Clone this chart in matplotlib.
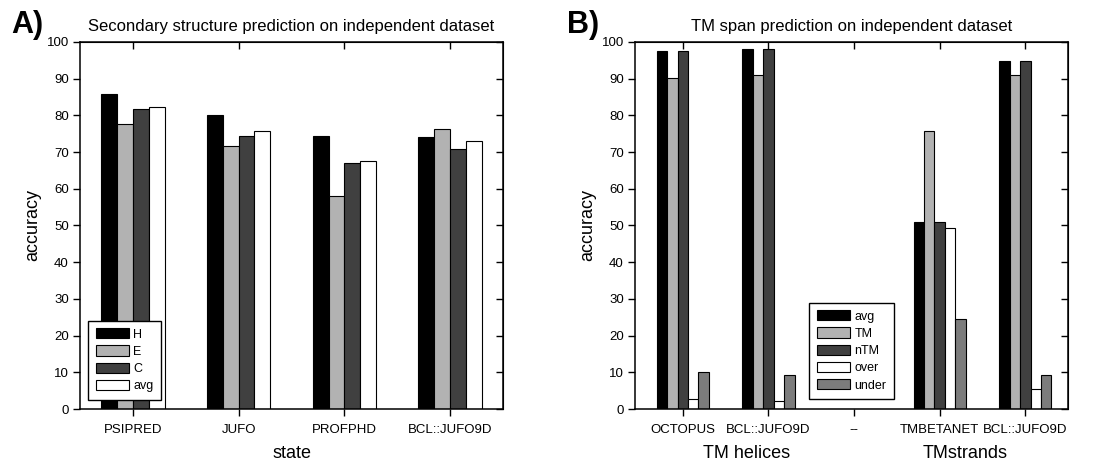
import numpy as np
import matplotlib
matplotlib.use("Agg")
import matplotlib.pyplot as plt

plt.rcParams["font.family"] = ["Liberation Sans", "DejaVu Sans"]

# Panel A: secondary structure prediction
ss_methods = ["PSIPRED", "JUFO", "PROFPHD", "BCL::JUFO9D"]
ss_series = ["H", "E", "C", "avg"]
ss_H = [85.8, 80.1, 74.4, 74.2]
ss_E = [77.7, 71.7, 58.0, 76.2]
ss_C = [81.7, 74.3, 67.0, 70.9]
ss_avg = [82.3, 75.8, 67.7, 73.1]

# Panel B: TM span prediction ("--" is an empty separator slot)
tm_methods = ["OCTOPUS", "BCL::JUFO9D", "--", "TMBETANET", "BCL::JUFO9D"]
tm_series = ["avg", "TM", "nTM", "over", "under"]
tm_avg = [97.6, 98.1, 0, 51.0, 94.9]
tm_TM = [90.3, 91.1, 0, 75.7, 91.1]
tm_nTM = [97.6, 98.1, 0, 51.0, 94.9]
tm_over = [2.6, 2.2, 0, 49.3, 5.4]
tm_under = [10.0, 9.3, 0, 24.6, 9.3]

C_BLACK = "#000000"
C_LIGHT = "#b2b2b2"
C_DARK = "#404040"
C_WHITE = "#ffffff"
C_MID = "#7c7c7c"


def style_axes(ax, xticks, xlabels):
    ax.set_ylim(0, 100)
    ax.set_yticks(np.arange(0, 101, 10))
    ax.set_xticks(xticks)
    ax.set_xticklabels(xlabels)
    ax.tick_params(axis="both", direction="out", length=5, width=1, labelsize=9.5, pad=3)
    ax.tick_params(axis="x", pad=6)
    for s in ax.spines.values():
        s.set_linewidth(1.1)
    # mirrored ticks pointing inwards on top and right
    top = ax.secondary_xaxis("top")
    top.set_xticks(xticks)
    top.set_xticklabels([])
    top.tick_params(direction="in", length=5, width=1)
    right = ax.secondary_yaxis("right")
    right.set_yticks(np.arange(0, 101, 10))
    right.set_yticklabels([])
    right.tick_params(direction="in", length=5, width=1)
    ax.set_ylabel("accuracy", fontsize=13, labelpad=4)


def add_legend(ax, anchor, loc):
    ax.legend(loc=loc, bbox_to_anchor=anchor, borderaxespad=0, fontsize=9, frameon=True,
              fancybox=False, edgecolor="black", handlelength=2.7, handleheight=0.9,
              labelspacing=0.38, handletextpad=0.3, borderpad=0.6, framealpha=1)


fig = plt.figure(figsize=(11.08, 4.66), dpi=100)
axA = fig.add_axes([0.0722, 0.1223, 0.3818, 0.7876])
axB = fig.add_axes([0.573, 0.1223, 0.391, 0.7876])

# ---- panel A
x = np.arange(len(ss_methods))
w = 0.15
colorsA = [C_BLACK, C_LIGHT, C_DARK, C_WHITE]
valsA = [ss_H, ss_E, ss_C, ss_avg]
for i, (vals, col, lab) in enumerate(zip(valsA, colorsA, ss_series)):
    axA.bar(x + (i - 1.5) * w, vals, w, color=col, edgecolor="black", linewidth=0.8, label=lab)
axA.set_xlim(-0.5, 3.5)
style_axes(axA, x, ss_methods)
axA.set_xlabel("state", fontsize=13, labelpad=6)
axA.set_title("Secondary structure prediction on independent dataset", fontsize=12, pad=8)
add_legend(axA, (0.019, 0.025), "lower left")
fig.text(0.01, 0.946, "A)", fontsize=22, fontweight="bold", va="center")

# ---- panel B
xb = np.arange(len(tm_methods))
wb = 0.122
colorsB = [C_BLACK, C_LIGHT, C_DARK, C_WHITE, C_MID]
valsB = [tm_avg, tm_TM, tm_nTM, tm_over, tm_under]
for i, (vals, col, lab) in enumerate(zip(valsB, colorsB, tm_series)):
    axB.bar(xb + (i - 2) * wb, vals, wb, color=col, edgecolor="black", linewidth=0.8, label=lab)
axB.set_xlim(-0.56, 4.5)
style_axes(axB, xb, tm_methods)
axB.set_title("TM span prediction on independent dataset", fontsize=12, pad=8)
axB.text(0.75, -0.12, "TM helices", transform=axB.get_xaxis_transform(),
         ha="center", va="center", fontsize=13)
axB.text(3.3, -0.12, "TMstrands", transform=axB.get_xaxis_transform(),
         ha="center", va="center", fontsize=13)
add_legend(axB, (0.5, 0.027), "lower center")
fig.text(0.512, 0.946, "B)", fontsize=22, fontweight="bold", va="center")

fig.savefig("out.png", dpi=100)
